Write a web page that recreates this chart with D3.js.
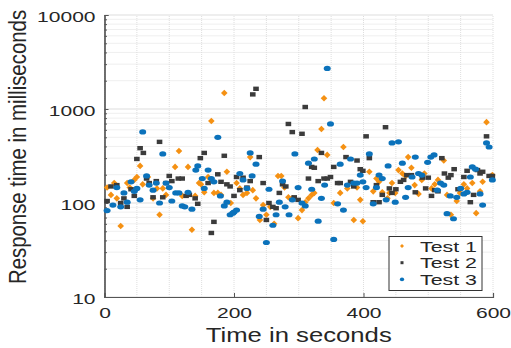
<!DOCTYPE html>
<html>
<head>
<meta charset="utf-8">
<script src="https://cdnjs.cloudflare.com/ajax/libs/d3/7.8.5/d3.min.js"></script>
<style>
  body { margin: 0; background: #fff; }
  text { font-family: "Liberation Sans", Arial, sans-serif; fill: #262626; }
</style>
</head>
<body>
<div class="svgContainer"></div>
<script>
// [time in seconds, response time in ms]
let test1 = [[4,146],[10,122],[15,163],[19,112],[25,57],[35,163],[39,146],[46,176],[50,189],[55,248],[59,158],[67,189],[75,112],[81,143],[85,75],[90,143],[95,122],[109,242],[115,358],[120,119],[129,242],[135,52],[140,119],[146,163],[149,158],[154,130],[160,189],[165,745],[169,128],[175,128],[180,122],[185,1480],[189,215],[195,100],[204,163],[209,143],[214,122],[220,128],[225,308],[229,137],[234,112],[240,66],[245,95],[250,75],[256,91],[262,60],[268,194],[273,194],[278,146],[284,115],[290,112],[299,69],[305,84],[310,102],[315,112],[320,122],[324,128],[329,366],[335,612],[339,1300],[344,325],[354,100],[364,128],[369,394],[375,143],[385,66],[390,146],[395,108],[399,64],[409,215],[415,133],[420,182],[424,168],[429,130],[437,112],[440,128],[444,163],[449,128],[454,224],[460,206],[465,194],[469,308],[474,237],[479,155],[485,125],[490,176],[494,206],[505,143],[510,158],[515,176],[524,283],[529,122],[535,75],[544,105],[549,128],[555,158],[560,143],[568,163],[574,78],[580,133],[584,168],[590,725],[599,198]];

let test2 = [[4,105],[10,150],[19,155],[25,100],[30,112],[35,91],[41,140],[46,119],[50,294],[55,383],[60,341],[65,182],[69,163],[75,115],[80,171],[85,447],[90,115],[95,163],[100,194],[104,171],[114,182],[120,182],[126,119],[131,122],[140,112],[144,98],[148,300],[154,341],[160,163],[165,48],[169,63],[175,202],[180,168],[185,318],[189,158],[194,150],[200,119],[204,189],[209,137],[214,186],[220,146],[225,171],[229,1430],[234,1640],[239,308],[245,163],[250,66],[254,100],[260,91],[265,88],[270,128],[275,158],[280,150],[284,693],[290,568],[293,115],[299,108],[305,545],[310,1050],[315,182],[320,242],[324,237],[330,171],[335,341],[339,182],[344,182],[349,189],[354,242],[360,163],[364,163],[373,308],[380,168],[385,150],[390,283],[395,229],[399,220],[404,512],[409,300],[415,102],[420,155],[424,102],[429,122],[434,640],[440,143],[444,128],[450,140],[457,168],[462,176],[467,198],[474,198],[480,130],[491,186],[496,143],[500,186],[505,119],[510,137],[515,133],[521,300],[525,206],[531,186],[535,198],[540,229],[546,140],[555,189],[560,220],[565,102],[570,122],[576,224],[580,206],[584,215],[590,512],[594,194],[599,194]];

let test3 = [[4,83],[13,95],[19,146],[25,91],[30,128],[35,102],[41,168],[46,133],[50,143],[55,108],[59,570],[65,194],[69,155],[75,137],[80,163],[85,100],[90,333],[95,163],[100,146],[104,105],[110,128],[115,128],[120,93],[124,91],[129,130],[135,86],[141,224],[144,248],[151,182],[154,143],[160,224],[165,182],[169,168],[175,500],[179,119],[185,93],[189,102],[194,75],[198,78],[200,80],[204,84],[209,206],[214,176],[220,143],[225,341],[228,194],[234,259],[239,72],[245,86],[250,38],[254,140],[260,58],[265,75],[270,102],[275,171],[279,91],[285,75],[290,108],[294,333],[299,146],[305,100],[310,93],[315,265],[320,140],[324,294],[330,64],[335,112],[340,155],[344,2700],[349,693],[354,41],[360,98],[364,259],[369,84],[375,155],[380,294],[385,163],[390,163],[395,198],[399,168],[404,146],[409,333],[415,98],[420,146],[424,198],[429,182],[435,108],[438,248],[444,436],[449,102],[454,447],[460,265],[465,115],[469,146],[475,189],[480,308],[485,206],[490,198],[499,271],[504,308],[509,325],[514,137],[519,163],[524,155],[529,77],[534,119],[539,68],[544,115],[550,143],[555,125],[560,130],[565,189],[568,242],[573,229],[580,125],[584,95],[590,436],[594,394],[599,176]];

let seriesNames = ["Test 1", "Test 2", "Test 3"];
let xTicks = [0, 200, 400, 600];
let yTicks = [10, 100, 1000, 10000];

let width = 511,
  height = 348,
  stretch = 1.45;

let colors = ["#f59113", "#3b3b3b", "#0b72bb"];

let svg = d3
  .select(".svgContainer")
  .append("svg")
  .attr("width", width)
  .attr("height", height);

let xScale = d3.scaleLinear().domain([0, 600]).range([104.5, 493]);
let yScale = d3.scaleLog().domain([10, 10000]).range([297, 15]);

// minor log values 20..90, 200..900, 2000..9000
let yMinor = [];
[10, 100, 1000].forEach(d => {
  for (let k = 2; k <= 9; k++) yMinor.push(d * k);
});

let grid = svg.append("g");

grid
  .selectAll(".vgrid")
  .data(d3.range(0, 601, 50))
  .enter()
  .append("line")
  .attr("x1", d => xScale(d))
  .attr("x2", d => xScale(d))
  .attr("y1", yScale(10))
  .attr("y2", yScale(10000))
  .attr("stroke", "#dedede")
  .attr("stroke-dasharray", "1,1");

grid
  .selectAll(".hminor")
  .data(yMinor)
  .enter()
  .append("line")
  .attr("x1", xScale(0))
  .attr("x2", xScale(600))
  .attr("y1", d => yScale(d))
  .attr("y2", d => yScale(d))
  .attr("stroke", "#dedede")
  .attr("stroke-dasharray", "1,1");

grid
  .selectAll(".hmajor")
  .data(yTicks)
  .enter()
  .append("line")
  .attr("x1", xScale(0))
  .attr("x2", xScale(600))
  .attr("y1", d => yScale(d))
  .attr("y2", d => yScale(d))
  .attr("stroke", "#e8e8e8")
  .attr("stroke-width", 1.5);

// axes
let yMinorAxis = svg
  .append("g")
  .attr("transform", "translate(104.5,0)")
  .call(d3.axisLeft(yScale).tickValues(yMinor).tickSize(-2.5).tickFormat(""));

let yAxis = svg
  .append("g")
  .attr("transform", "translate(104.5,0)")
  .call(
    d3
      .axisLeft(yScale)
      .tickValues(yTicks)
      .tickSize(-4)
      .tickPadding(9)
      .tickFormat(d3.format("d"))
  );

let xAxis = svg
  .append("g")
  .attr("transform", "translate(0,297)")
  .call(
    d3
      .axisBottom(xScale)
      .tickValues(xTicks)
      .tickSize(-4)
      .tickPadding(10)
      .tickFormat(d3.format("d"))
  );

[yMinorAxis, yAxis, xAxis].forEach(g => {
  g.select(".domain").attr("stroke", "#555").attr("stroke-width", 1.2);
  g.selectAll(".tick line").attr("stroke", "#555");
});

svg
  .selectAll(".tick text")
  .attr("font-size", 15)
  .attr("font-family", "Liberation Sans, Arial, sans-serif")
  .attr("fill", "#262626")
  .attr("lengthAdjust", "spacingAndGlyphs")
  .attr("textLength", function() {
    return this.textContent.length * 0.556 * 14.5 * stretch;
  });
yAxis.selectAll(".tick text").attr("dy", "0.45em");

// axis titles
svg
  .append("text")
  .attr("x", xScale(300))
  .attr("y", 342)
  .attr("text-anchor", "middle")
  .attr("font-size", 21)
  .attr("lengthAdjust", "spacingAndGlyphs")
  .attr("textLength", 186)
  .text("Time in seconds");

svg
  .append("text")
  .attr("transform", "translate(26,147) scale(1.2,1) rotate(-90)")
  .attr("text-anchor", "middle")
  .attr("font-size", 20.4)
  .text("Response time in milliseconds");

// markers
let markers = svg.append("g");

markers
  .selectAll(".t1")
  .data(test1)
  .enter()
  .append("path")
  .attr("d", d => {
    let cx = xScale(d[0]),
      cy = yScale(d[1]);
    return `M${cx},${cy - 3.3}L${cx + 3.3},${cy}L${cx},${cy + 3.3}L${cx - 3.3},${cy}Z`;
  })
  .style("fill", colors[0]);

markers
  .selectAll(".t2")
  .data(test2)
  .enter()
  .append("rect")
  .attr("x", d => xScale(d[0]) - 2.8)
  .attr("y", d => yScale(d[1]) - 2.2)
  .attr("width", 5.6)
  .attr("height", 4.4)
  .style("fill", colors[1]);

markers
  .selectAll(".t3")
  .data(test3)
  .enter()
  .append("ellipse")
  .attr("cx", d => xScale(d[0]))
  .attr("cy", d => yScale(d[1]))
  .attr("rx", 3.5)
  .attr("ry", 2.6)
  .style("fill", colors[2]);

// legend
let legend = svg.append("g");

legend
  .append("rect")
  .attr("x", 389)
  .attr("y", 236.5)
  .attr("width", 93)
  .attr("height", 54)
  .attr("fill", "#fff")
  .attr("stroke", "#333")
  .attr("stroke-width", 1);

let rows = legend
  .selectAll(".row")
  .data(seriesNames)
  .enter()
  .append("g")
  .attr("transform", (d, i) => "translate(0," + (246 + i * 16.7) + ")");

rows
  .filter((d, i) => i === 0)
  .append("path")
  .attr("d", "M402,-2L404,0L402,2L400,0Z")
  .style("fill", colors[0]);

rows
  .filter((d, i) => i === 1)
  .append("rect")
  .attr("x", 400.5)
  .attr("y", -1.5)
  .attr("width", 3)
  .attr("height", 3)
  .style("fill", colors[1]);

rows
  .filter((d, i) => i === 2)
  .append("ellipse")
  .attr("cx", 402)
  .attr("cy", 0)
  .attr("rx", 2.2)
  .attr("ry", 1.8)
  .style("fill", colors[2]);

rows
  .append("text")
  .attr("x", 420)
  .attr("y", 5.5)
  .attr("font-size", 15)
  .attr("lengthAdjust", "spacingAndGlyphs")
  .attr("textLength", 57)
  .text(d => d);
</script>
</body>
</html>
